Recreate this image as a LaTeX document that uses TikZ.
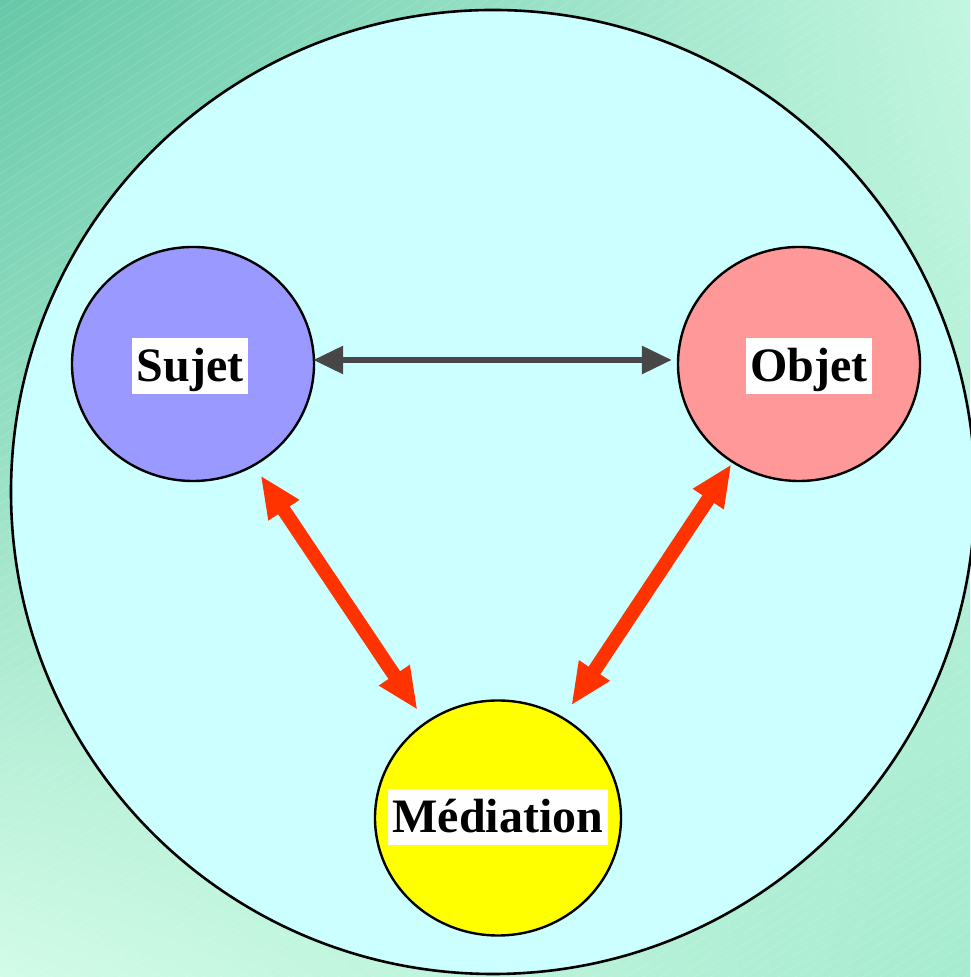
\documentclass[tikz,border=0pt]{standalone}
\usepackage{fontspec}
\setmainfont{Liberation Serif}
\usetikzlibrary{arrows.meta,shapes.geometric,shadings}

\definecolor{bgtl}{HTML}{66C8A8}
\definecolor{bgtr}{HTML}{C2F6E0}
\definecolor{bgbl}{HTML}{D2FCE7}
\definecolor{bgbr}{HTML}{A6EBD0}
\definecolor{disc}{HTML}{CCFFFF}
\definecolor{sujetfill}{HTML}{9999FF}
\definecolor{objetfill}{HTML}{FF9999}
\definecolor{mediafill}{HTML}{FFFF00}
\definecolor{linkred}{HTML}{FF3300}
\definecolor{axisgray}{HTML}{474747}

\begin{document}
\begin{tikzpicture}[x=0.5pt,y=0.5pt,
	pole/.style={ellipse,draw=black,line width=1.2pt,inner sep=0pt,minimum width=121pt,minimum height=117pt},
	tag/.style={fill=white,inner xsep=2.3pt,inner ysep=0pt,text height=22pt,text depth=6pt,
		font=\fontsize{24}{28}\selectfont\bfseries},
	link/.style={draw=linkred,line width=7pt,{Triangle[length=21pt,width=17pt]}-{Triangle[length=21pt,width=17pt]}},
	axis/.style={draw=axisgray,line width=3pt,{Triangle[length=15pt,width=13.5pt]}-{Triangle[length=15pt,width=13.5pt]}}]
	\useasboundingbox (0,0) rectangle (970,977);

	% background with fine stripes
	\shade[upper left=bgtl,upper right=bgtr,lower left=bgbl,lower right=bgbr] (0,0) rectangle (970,977);
	\begin{scope}
		\clip (0,0) rectangle (970,977);
		\foreach \c in {-1100,-1089,...,977} {
				\draw[white,opacity=.13,line width=.4pt] (0,\c) -- ++(1700,1105);
			}
	\end{scope}

	\draw[fill=disc,line width=1.3pt] (493,485) circle (241pt);

	\node[pole,fill=sujetfill] (sujet) at (193,613) {};
	\node[pole,fill=objetfill] (objet) at (799,613) {};
	\node[pole,fill=mediafill,minimum width=123pt,minimum height=117.5pt] (mediation) at (498,159) {};

	\node[tag] (sujettag) at (190,611) {Sujet};
	\node[tag] (objettag) at (809,611) {Objet};
	\node[tag] (mediationtag) at (498,160) {Médiation};

	\draw[axis,shorten <=-1pt,shorten >=2.5pt] ([yshift=2pt]sujet.east) -- ([yshift=2pt]objet.west);
	\draw[link,shorten <=5.5pt,shorten >=7pt] (sujet.-59) -- (mediation.127.6);
	\draw[link,shorten <=.7pt,shorten >=7pt] (objet.236) -- (mediation.57);

\end{tikzpicture}
\end{document}
